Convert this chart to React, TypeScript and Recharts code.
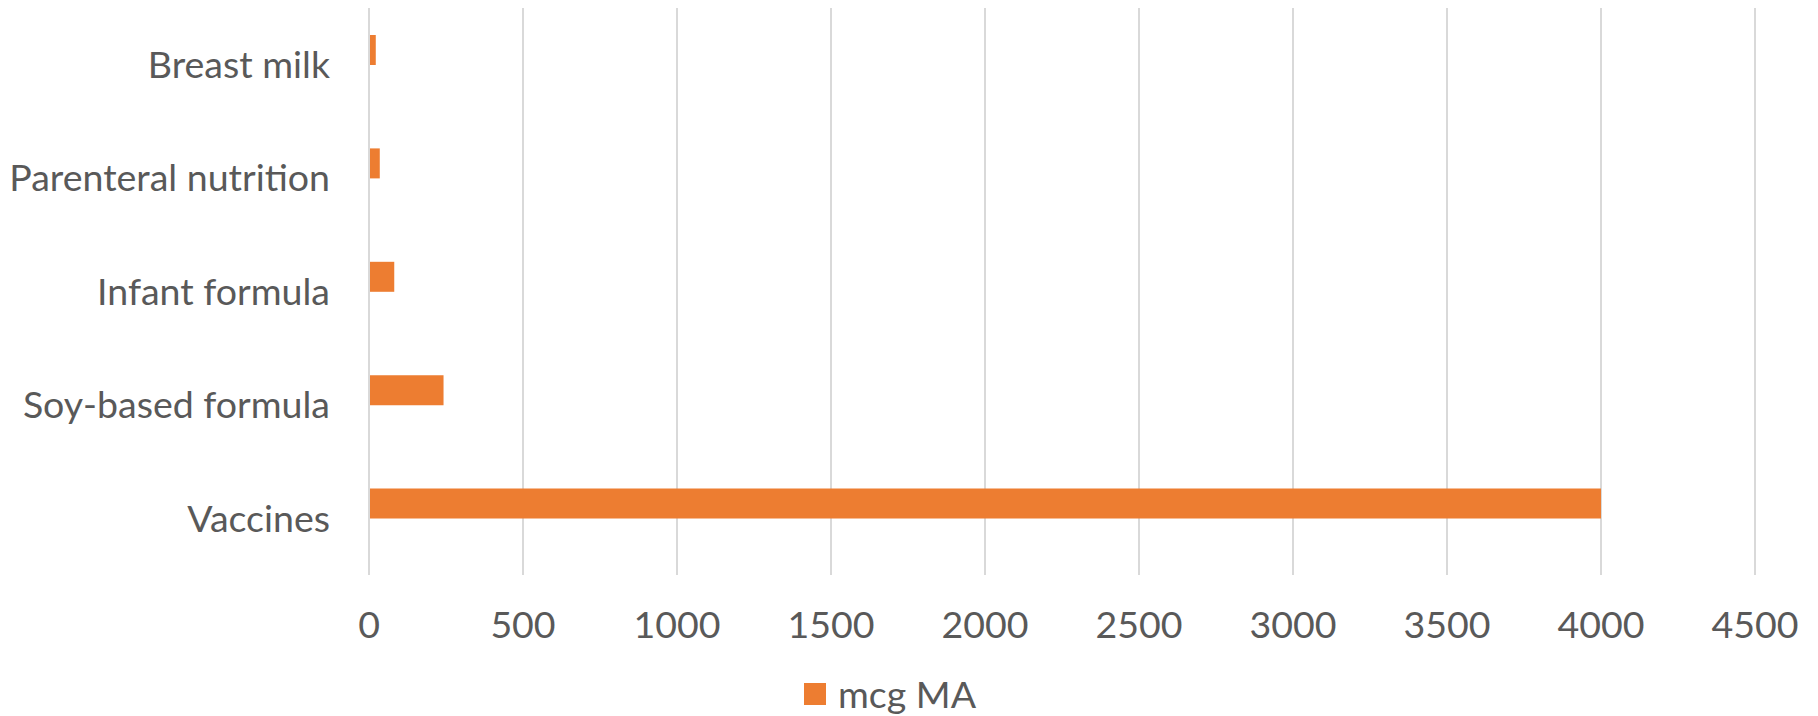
import React from 'react';
import { BarChart, Bar, XAxis, YAxis, CartesianGrid } from 'recharts';

const categories = ['Breast milk', 'Parenteral nutrition', 'Infant formula', 'Soy-based formula', 'Vaccines'];
const mcgMA = [22, 35, 82, 242, 4000];
const xTicks = [0, 500, 1000, 1500, 2000, 2500, 3000, 3500, 4000, 4500];

const ORANGE = '#ED7D31';
const TEXT = '#595959';
const GRID = '#d9d9d9';
const FONT = 'Lato, "Open Sans", sans-serif';

// second (empty) series keeps the Excel cluster spacing, so the bar sits above centre
const data = categories.map((name, i) => ({ name, mcgMA: mcgMA[i], empty: null }));

const App: React.FC = () => {
    return (
        <div style={{ position: 'absolute', left: 0, top: 0, width: 1818, height: 716, background: '#fff', fontFamily: FONT }}>
            <BarChart
                width={1818}
                height={716}
                data={data}
                layout="vertical"
                margin={{ top: 8, right: 63, bottom: 81, left: 0 }}
                barSize={30}
                barGap={0}
            >
                <CartesianGrid horizontal={false} stroke={GRID} strokeWidth={2} />
                <XAxis
                    type="number"
                    domain={[0, 4500]}
                    ticks={xTicks}
                    axisLine={false}
                    tickLine={false}
                    tickSize={0}
                    tickMargin={36}
                    height={60}
                    tick={{ fill: TEXT, fontSize: 37.5, fontFamily: FONT }}
                    interval={0}
                />
                <YAxis
                    type="category"
                    dataKey="name"
                    width={369}
                    axisLine={{ stroke: GRID, strokeWidth: 2 }}
                    tickLine={false}
                    tickSize={0}
                    tickMargin={39}
                    tick={{ fill: TEXT, fontSize: 37.5, fontFamily: FONT }}
                    interval={0}
                />
                <Bar dataKey="mcgMA" fill={ORANGE} isAnimationActive={false} />
                <Bar dataKey="empty" fill={ORANGE} legendType="none" isAnimationActive={false} />
            </BarChart>
            <div style={{ position: 'absolute', left: 804, top: 671, display: 'flex', alignItems: 'center', color: TEXT, fontSize: 37.5 }}>
                <span style={{ display: 'inline-block', width: 22, height: 22, background: ORANGE, marginRight: 12 }} />
                <span>mcg MA</span>
            </div>
        </div>
    );
};

export default App;
